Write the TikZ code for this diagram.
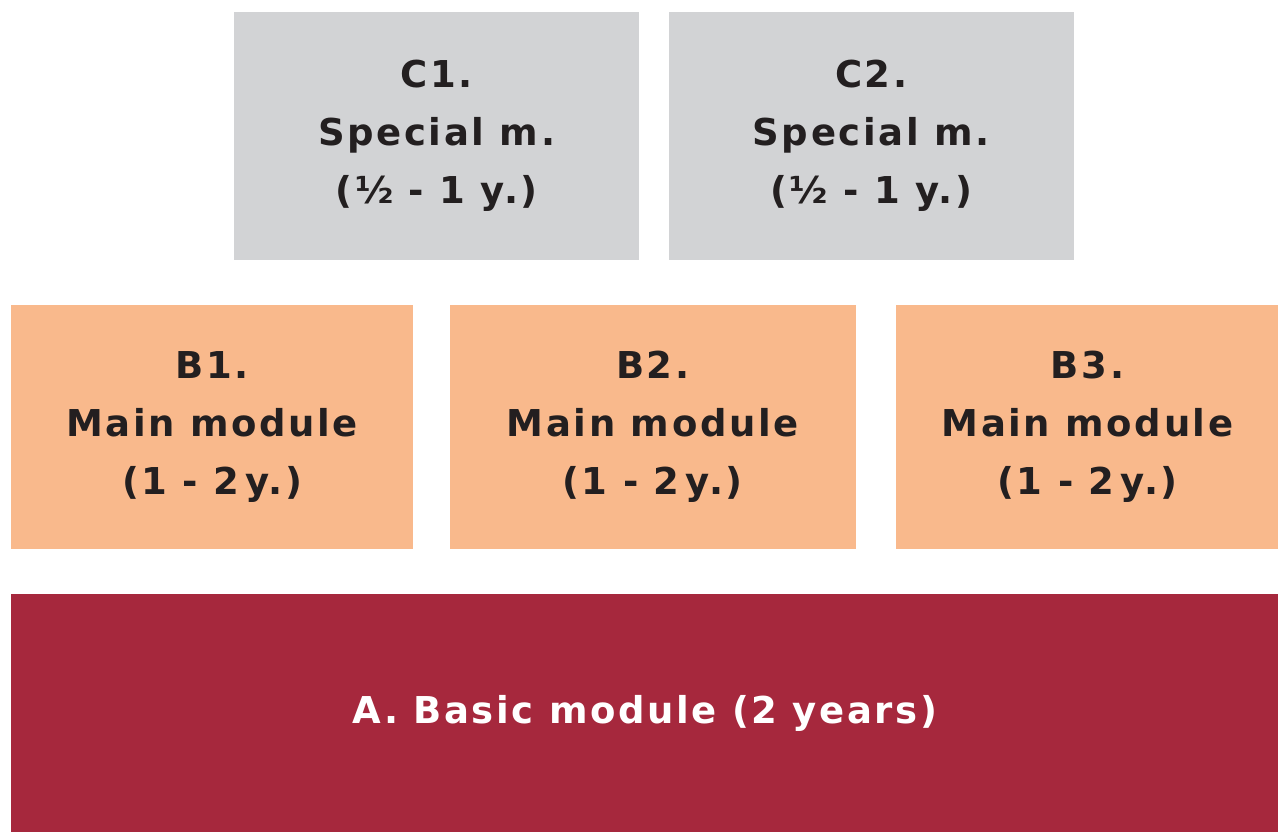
\documentclass[tikz,border=0pt]{standalone}
\usepackage{fontspec}
\setmainfont{DejaVu Sans}[LetterSpace=7]
\usepackage{tikz}
\usetikzlibrary{positioning}
\definecolor{specgray}{HTML}{D2D3D5}
\definecolor{mainorange}{HTML}{F9B98C}
\definecolor{basicred}{HTML}{A6283D}
\definecolor{textdark}{HTML}{231F20}

\begin{document}
\begin{tikzpicture}[
            x = 1pt, y = 1pt, % one unit per pixel
            font = \bfseries\fontsize{37}{58}\selectfont,
            every node/.style = {inner sep = 0pt, align = center}
        ]

        \tikzset{
            special/.style = {fill = specgray, text = textdark,
                              minimum width = 405pt, minimum height = 248pt},
            mainmod/.style = {fill = mainorange, text = textdark,
                              minimum height = 244pt},
            basic/.style = {fill = basicred, text = white,
                            minimum width = 1267pt, minimum height = 238pt}
        }

        \useasboundingbox (0,0) rectangle (1278,-832);

        % basic module
        \node[basic, anchor = north west] (A) at (11,-594) {A. Basic module (2 years)};

        % main modules
        \node[mainmod, minimum width = 402pt] (B1)
            [above = 45pt of A.north west, anchor = south west] {B1.\\Main module\\(1 - 2\,y.)};
        \node[mainmod, minimum width = 406pt] (B2) [right = 36pt of B1] {B2.\\Main module\\(1 - 2\,y.)};
        \node[mainmod, minimum width = 383pt] (B3) [right = 40pt of B2] {B3.\\Main module\\(1 - 2\,y.)};

        % special modules
        \node[special, anchor = north west] (C1) at (234,-12) {C1.\\Special m.\\(½ - 1 y.)};
        \node[special] (C2) [right = 29pt of C1] {C2.\\Special m.\\(½ - 1 y.)};

\end{tikzpicture}
\end{document}
